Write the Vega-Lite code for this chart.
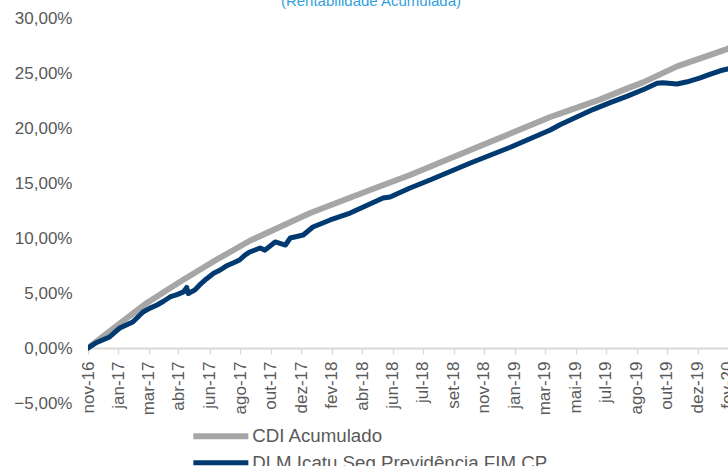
{
  "$schema": "https://vega.github.io/schema/vega-lite/v6.json",
  "width": 640,
  "height": 385,
  "autosize": {"type": "none"},
  "padding": {"left": 88, "top": 18, "right": 0, "bottom": 63},
  "background": "white",
  "config": {"view": {"stroke": null}, "font": "Liberation Sans"},
  "title": {
    "text": "(Rentabilidade Acumulada)",
    "anchor": "middle",
    "frame": "group",
    "dx": -37,
    "offset": 0,
    "dy": 12,
    "baseline": "alphabetic",
    "fontSize": 15,
    "fontWeight": "normal",
    "color": "#33A1DE",
    "font": "Liberation Sans"
  },
  "data": {
    "values": [
      {"dia": "2016-11-14", "serie": "CDI Acumulado", "valor": 0},
      {"dia": "2017-01-08", "serie": "CDI Acumulado", "valor": 2.09},
      {"dia": "2017-03-03", "serie": "CDI Acumulado", "valor": 4.09},
      {"dia": "2017-05-03", "serie": "CDI Acumulado", "valor": 6.0},
      {"dia": "2017-07-03", "serie": "CDI Acumulado", "valor": 7.82},
      {"dia": "2017-09-10", "serie": "CDI Acumulado", "valor": 9.75},
      {"dia": "2017-12-31", "serie": "CDI Acumulado", "valor": 12.27},
      {"dia": "2018-04-21", "serie": "CDI Acumulado", "valor": 14.36},
      {"dia": "2018-07-04", "serie": "CDI Acumulado", "valor": 15.73},
      {"dia": "2018-10-24", "serie": "CDI Acumulado", "valor": 18.0},
      {"dia": "2019-03-21", "serie": "CDI Acumulado", "valor": 21.0},
      {"dia": "2019-04-08", "serie": "CDI Acumulado", "valor": 21.3},
      {"dia": "2019-06-22", "serie": "CDI Acumulado", "valor": 22.6},
      {"dia": "2019-08-11", "serie": "CDI Acumulado", "valor": 23.6},
      {"dia": "2019-09-09", "serie": "CDI Acumulado", "valor": 24.15},
      {"dia": "2019-11-11", "serie": "CDI Acumulado", "valor": 25.6},
      {"dia": "2020-02-13", "serie": "CDI Acumulado", "valor": 27.2},
      {"dia": "2020-02-20", "serie": "CDI Acumulado", "valor": 27.45},

      {"dia": "2016-11-14", "serie": "DLM Icatu Seg Previdência FIM CP", "valor": 0},
      {"dia": "2016-11-28", "serie": "DLM Icatu Seg Previdência FIM CP", "valor": 0.45},
      {"dia": "2016-12-12", "serie": "DLM Icatu Seg Previdência FIM CP", "valor": 0.75},
      {"dia": "2016-12-24", "serie": "DLM Icatu Seg Previdência FIM CP", "valor": 1.0},
      {"dia": "2017-01-03", "serie": "DLM Icatu Seg Previdência FIM CP", "valor": 1.45},
      {"dia": "2017-01-12", "serie": "DLM Icatu Seg Previdência FIM CP", "valor": 1.82},
      {"dia": "2017-01-22", "serie": "DLM Icatu Seg Previdência FIM CP", "valor": 2.05},
      {"dia": "2017-02-05", "serie": "DLM Icatu Seg Previdência FIM CP", "valor": 2.36},
      {"dia": "2017-02-14", "serie": "DLM Icatu Seg Previdência FIM CP", "valor": 2.8},
      {"dia": "2017-02-24", "serie": "DLM Icatu Seg Previdência FIM CP", "valor": 3.27},
      {"dia": "2017-03-08", "serie": "DLM Icatu Seg Previdência FIM CP", "valor": 3.6},
      {"dia": "2017-03-22", "serie": "DLM Icatu Seg Previdência FIM CP", "valor": 3.91},
      {"dia": "2017-04-03", "serie": "DLM Icatu Seg Previdência FIM CP", "valor": 4.25},
      {"dia": "2017-04-15", "serie": "DLM Icatu Seg Previdência FIM CP", "valor": 4.64},
      {"dia": "2017-04-28", "serie": "DLM Icatu Seg Previdência FIM CP", "valor": 4.85},
      {"dia": "2017-05-10", "serie": "DLM Icatu Seg Previdência FIM CP", "valor": 5.1},
      {"dia": "2017-05-16", "serie": "DLM Icatu Seg Previdência FIM CP", "valor": 5.5},
      {"dia": "2017-05-19", "serie": "DLM Icatu Seg Previdência FIM CP", "valor": 4.95},
      {"dia": "2017-05-24", "serie": "DLM Icatu Seg Previdência FIM CP", "valor": 5.1},
      {"dia": "2017-05-31", "serie": "DLM Icatu Seg Previdência FIM CP", "valor": 5.27},
      {"dia": "2017-06-09", "serie": "DLM Icatu Seg Previdência FIM CP", "valor": 5.73},
      {"dia": "2017-06-22", "serie": "DLM Icatu Seg Previdência FIM CP", "valor": 6.3},
      {"dia": "2017-07-05", "serie": "DLM Icatu Seg Previdência FIM CP", "valor": 6.8},
      {"dia": "2017-07-17", "serie": "DLM Icatu Seg Previdência FIM CP", "valor": 7.09},
      {"dia": "2017-07-28", "serie": "DLM Icatu Seg Previdência FIM CP", "valor": 7.45},
      {"dia": "2017-08-10", "serie": "DLM Icatu Seg Previdência FIM CP", "valor": 7.73},
      {"dia": "2017-08-22", "serie": "DLM Icatu Seg Previdência FIM CP", "valor": 8.0},
      {"dia": "2017-09-01", "serie": "DLM Icatu Seg Previdência FIM CP", "valor": 8.45},
      {"dia": "2017-09-10", "serie": "DLM Icatu Seg Previdência FIM CP", "valor": 8.73},
      {"dia": "2017-09-29", "serie": "DLM Icatu Seg Previdência FIM CP", "valor": 9.09},
      {"dia": "2017-10-08", "serie": "DLM Icatu Seg Previdência FIM CP", "valor": 8.9},
      {"dia": "2017-10-27", "serie": "DLM Icatu Seg Previdência FIM CP", "valor": 9.64},
      {"dia": "2017-11-15", "serie": "DLM Icatu Seg Previdência FIM CP", "valor": 9.36},
      {"dia": "2017-11-24", "serie": "DLM Icatu Seg Previdência FIM CP", "valor": 10.0},
      {"dia": "2017-12-18", "serie": "DLM Icatu Seg Previdência FIM CP", "valor": 10.27},
      {"dia": "2018-01-05", "serie": "DLM Icatu Seg Previdência FIM CP", "valor": 11.0},
      {"dia": "2018-02-06", "serie": "DLM Icatu Seg Previdência FIM CP", "valor": 11.64},
      {"dia": "2018-03-15", "serie": "DLM Icatu Seg Previdência FIM CP", "valor": 12.27},
      {"dia": "2018-05-15", "serie": "DLM Icatu Seg Previdência FIM CP", "valor": 13.64},
      {"dia": "2018-05-28", "serie": "DLM Icatu Seg Previdência FIM CP", "valor": 13.73},
      {"dia": "2018-07-04", "serie": "DLM Icatu Seg Previdência FIM CP", "valor": 14.55},
      {"dia": "2018-08-10", "serie": "DLM Icatu Seg Previdência FIM CP", "valor": 15.27},
      {"dia": "2018-10-24", "serie": "DLM Icatu Seg Previdência FIM CP", "valor": 16.82},
      {"dia": "2019-01-06", "serie": "DLM Icatu Seg Previdência FIM CP", "valor": 18.25},
      {"dia": "2019-03-21", "serie": "DLM Icatu Seg Previdência FIM CP", "valor": 19.82},
      {"dia": "2019-04-08", "serie": "DLM Icatu Seg Previdência FIM CP", "valor": 20.3},
      {"dia": "2019-06-09", "serie": "DLM Icatu Seg Previdência FIM CP", "valor": 21.7},
      {"dia": "2019-07-10", "serie": "DLM Icatu Seg Previdência FIM CP", "valor": 22.3},
      {"dia": "2019-08-11", "serie": "DLM Icatu Seg Previdência FIM CP", "valor": 22.9},
      {"dia": "2019-09-12", "serie": "DLM Icatu Seg Previdência FIM CP", "valor": 23.55},
      {"dia": "2019-10-05", "serie": "DLM Icatu Seg Previdência FIM CP", "valor": 24.06},
      {"dia": "2019-10-16", "serie": "DLM Icatu Seg Previdência FIM CP", "valor": 24.12},
      {"dia": "2019-11-11", "serie": "DLM Icatu Seg Previdência FIM CP", "valor": 24.0},
      {"dia": "2019-11-30", "serie": "DLM Icatu Seg Previdência FIM CP", "valor": 24.2},
      {"dia": "2019-12-24", "serie": "DLM Icatu Seg Previdência FIM CP", "valor": 24.55},
      {"dia": "2020-01-12", "serie": "DLM Icatu Seg Previdência FIM CP", "valor": 24.9},
      {"dia": "2020-01-30", "serie": "DLM Icatu Seg Previdência FIM CP", "valor": 25.2},
      {"dia": "2020-02-13", "serie": "DLM Icatu Seg Previdência FIM CP", "valor": 25.36},
      {"dia": "2020-02-20", "serie": "DLM Icatu Seg Previdência FIM CP", "valor": 25.5}
    ]
  },
  "mark": {"type": "line", "clip": true, "strokeJoin": "round", "strokeCap": "round"},
  "encoding": {
    "x": {
      "field": "dia",
      "type": "temporal",
      "scale": {
        "type": "utc",
        "domain": [
          {"year": 2016, "month": 11, "date": 14, "utc": true},
          {"year": 2020, "month": 2, "date": 13, "hours": 12, "utc": true}
        ]
      },
      "axis": {
        "title": null,
        "orient": "bottom",
        "offset": -55,
        "values": [
          {"year": 2016, "month": 11, "date": 14, "utc": true},
          {"year": 2017, "month": 1, "date": 9, "utc": true},
          {"year": 2017, "month": 3, "date": 7, "utc": true},
          {"year": 2017, "month": 4, "date": 30, "utc": true},
          {"year": 2017, "month": 6, "date": 28, "utc": true},
          {"year": 2017, "month": 8, "date": 23, "utc": true},
          {"year": 2017, "month": 10, "date": 19, "utc": true},
          {"year": 2017, "month": 12, "date": 14, "utc": true},
          {"year": 2018, "month": 2, "date": 9, "utc": true},
          {"year": 2018, "month": 4, "date": 6, "utc": true},
          {"year": 2018, "month": 6, "date": 2, "utc": true},
          {"year": 2018, "month": 7, "date": 28, "utc": true},
          {"year": 2018, "month": 9, "date": 23, "utc": true},
          {"year": 2018, "month": 11, "date": 18, "utc": true},
          {"year": 2019, "month": 1, "date": 14, "utc": true},
          {"year": 2019, "month": 3, "date": 11, "utc": true},
          {"year": 2019, "month": 5, "date": 7, "utc": true},
          {"year": 2019, "month": 7, "date": 2, "utc": true},
          {"year": 2019, "month": 8, "date": 28, "utc": true},
          {"year": 2019, "month": 10, "date": 23, "utc": true},
          {"year": 2019, "month": 12, "date": 19, "utc": true},
          {"year": 2020, "month": 2, "date": 13, "utc": true}
        ],
        "labelExpr": "['jan','fev','mar','abr','mai','jun','jul','ago','set','out','nov','dez'][utcmonth(datum.value)] + '-' + utcFormat(datum.value, '%y')",
        "labelAngle": -90,
        "labelAlign": "right",
        "labelBaseline": "middle",
        "labelFontSize": 17,
        "labelColor": "#595959",
        "labelPadding": 7,
        "labelOverlap": false,
        "labelFlush": false,
        "labelBound": false,
        "tickSize": 6,
        "tickColor": "#D9D9D9",
        "tickWidth": 1.5,
        "domainColor": "#D9D9D9",
        "domainWidth": 2,
        "grid": false
      }
    },
    "y": {
      "field": "valor",
      "type": "quantitative",
      "scale": {"domain": [-5, 30], "nice": false, "zero": false},
      "axis": {
        "title": null,
        "values": [-5, 0, 5, 10, 15, 20, 25, 30],
        "labelExpr": "replace(format(datum.value, '.2f'), '.', ',') + '%'",
        "domain": false,
        "ticks": false,
        "grid": false,
        "labelPadding": 16,
        "labelFontSize": 17,
        "labelColor": "#595959",
        "labelFlush": false,
        "labelBound": false
      }
    },
    "color": {
      "field": "serie",
      "type": "nominal",
      "scale": {
        "domain": ["CDI Acumulado", "DLM Icatu Seg Previdência FIM CP"],
        "range": ["#A6A6A6", "#003A70"]
      },
      "legend": {
        "title": null,
        "orient": "none",
        "legendX": 123.5,
        "legendY": 409,
        "direction": "vertical",
        "symbolType": "M-5,0H5",
        "symbolSize": 121,
        "symbolStrokeWidth": 6,
        "labelFontSize": 18.7,
        "labelColor": "#595959",
        "labelOffset": 22,
        "rowPadding": 3.5,
        "padding": 0,
        "labelLimit": 600
      }
    },
    "strokeWidth": {
      "field": "serie",
      "type": "nominal",
      "scale": {
        "domain": ["CDI Acumulado", "DLM Icatu Seg Previdência FIM CP"],
        "range": [6, 5]
      },
      "legend": null
    }
  }
}
